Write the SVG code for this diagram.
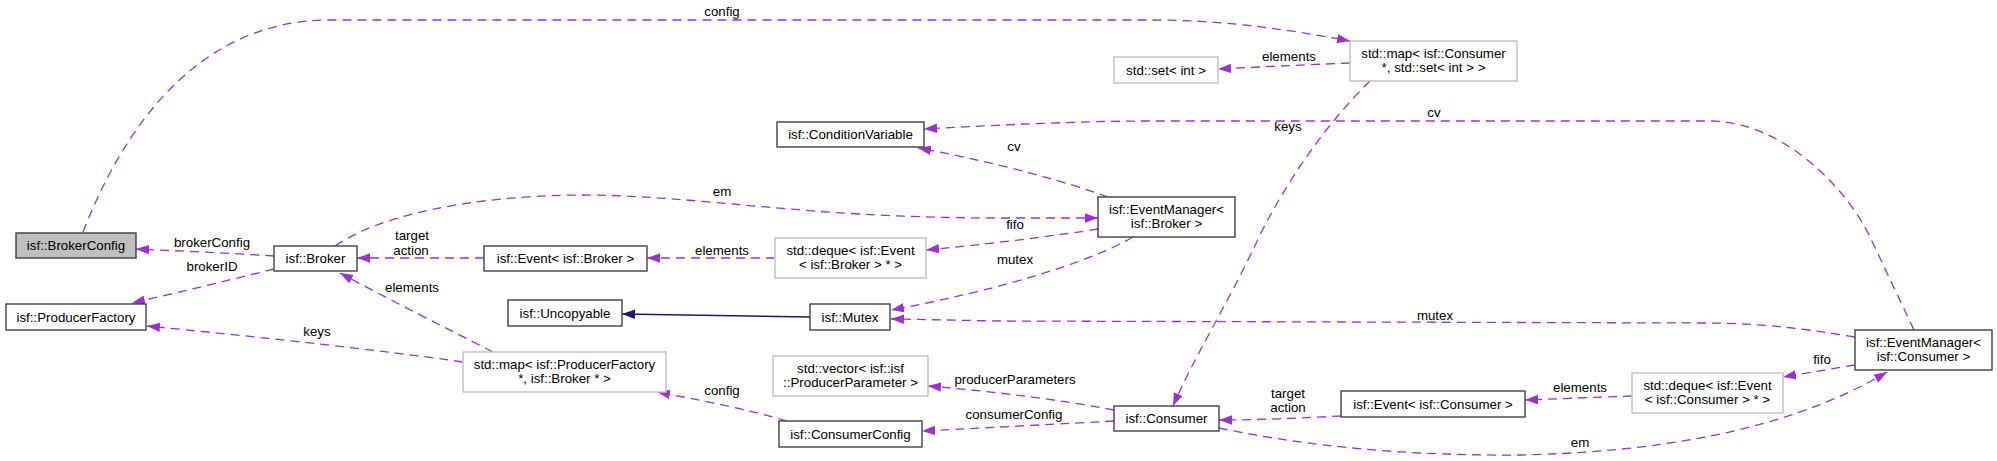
<svg xmlns="http://www.w3.org/2000/svg" width="1997" height="461" viewBox="0 0 1997 461">
<style>
text{font-family:"Liberation Sans",Arial,sans-serif;font-size:13.3px;fill:#000;text-anchor:middle}
.n{fill:#fff;stroke:#404040;stroke-width:1.4}
.g{fill:#fff;stroke:#bfbfbf;stroke-width:1.4}
.h{fill:#bfbfbf;stroke:#404040;stroke-width:1.4}
.e{fill:none;stroke:#9a32cd;stroke-width:1.3;stroke-dasharray:9,6;marker-end:url(#ap)}
.i{fill:none;stroke:#191970;stroke-width:1.3;marker-end:url(#ab)}
</style>
<defs>
<marker id="ap" markerUnits="userSpaceOnUse" markerWidth="14" markerHeight="10" refX="13" refY="4.7" orient="auto"><path d="M0,0 L13,4.7 L0,9.4 z" fill="#9a32cd"/></marker>
<marker id="ab" markerUnits="userSpaceOnUse" markerWidth="14" markerHeight="10" refX="13" refY="4.7" orient="auto"><path d="M0,0 L13,4.7 L0,9.4 z" fill="#191970"/></marker>
</defs>
<rect width="1997" height="461" fill="#fff"/>
<g id="edges">
<path class="e" d="M83,232 C115,150 185,20 330,20 L1150,20 C1220,20 1280,28 1350,41"/>
<text x="722" y="16">config</text>
<path class="e" d="M1914,330 L1870,237 C1845,185 1780,121 1710,121 L1150,121 C1080,121 1000,125 924,129"/>
<text x="1434" y="117">cv</text>
<path class="e" d="M1108,197 C1070,183 1000,163 918,148"/>
<text x="1014" y="151">cv</text>
<path class="e" d="M335,246 C380,215 470,196 580,195 C700,195 800,218 1000,218 L1098,218"/>
<text x="722" y="196">em</text>
<path class="e" d="M274,256 C230,253 180,251 136,249"/>
<text x="212" y="247">brokerConfig</text>
<path class="e" d="M274,269 C230,280 180,292 132,303"/>
<text x="212" y="271">brokerID</text>
<path class="e" d="M484,258 L357,258"/>
<text x="412" y="240">target</text>
<text x="411" y="255">action</text>
<path class="e" d="M493,352 C450,330 390,300 340,273"/>
<text x="412" y="292">elements</text>
<path class="e" d="M463,362 C380,350 250,336 147,326"/>
<text x="317" y="336">keys</text>
<path class="e" d="M775,258 L647,258"/>
<text x="722" y="255">elements</text>
<path class="e" d="M1098,229 C1060,235 1000,243 926,250"/>
<text x="1015" y="229">fifo</text>
<path class="e" d="M1133,237 C1090,262 1000,290 891,310"/>
<text x="1015" y="264">mutex</text>
<path class="e" d="M1855,337 C1800,328 1760,323 1700,323 L1000,321 L891,319"/>
<text x="1435" y="320">mutex</text>
<path class="e" d="M1370,81 C1330,120 1290,175 1260,235 C1230,300 1195,355 1173,406"/>
<text x="1288" y="131">keys</text>
<path class="e" d="M1350,63 C1300,65 1260,67 1218,69"/>
<text x="1289" y="61">elements</text>
<path class="e" d="M1114,410 C1060,400 1000,392 928,386"/>
<text x="1015" y="384">producerParameters</text>
<path class="e" d="M1114,421 C1060,424 1000,427 922,431"/>
<text x="1014" y="419">consumerConfig</text>
<path class="e" d="M787,421 C750,410 700,400 657,392"/>
<text x="722" y="395">config</text>
<path class="e" d="M1341,416 C1300,418 1260,420 1219,420"/>
<text x="1288" y="398">target</text>
<text x="1288" y="412">action</text>
<path class="e" d="M1632,396 L1525,400"/>
<text x="1580" y="392">elements</text>
<path class="e" d="M1855,365 L1783,377"/>
<text x="1822" y="364">fifo</text>
<path class="e" d="M1219,428 C1300,445 1400,456 1520,455 C1660,452 1790,430 1887,372"/>
<text x="1580" y="447">em</text>
<path class="i" d="M810,317 L622,314"/>
</g>
<g id="BrokerConfig"><rect class="h" x="16" y="233" width="120" height="25"/><text x="76" y="250">isf::BrokerConfig</text></g>
<g id="Broker"><rect class="n" x="274" y="246" width="83" height="25"/><text x="315.5" y="263">isf::Broker</text></g>
<g id="ProducerFactory"><rect class="n" x="6" y="304" width="140" height="26"/><text x="76" y="321.5">isf::ProducerFactory</text></g>
<g id="EventBroker"><rect class="n" x="484" y="246" width="163" height="25"/><text x="565.5" y="263">isf::Event&lt; isf::Broker &gt;</text></g>
<g id="MapProducerFactoryBroker"><rect class="g" x="463" y="352" width="203" height="40"/><text x="564.5" y="368.5">std::map&lt; isf::ProducerFactory</text><text x="564.5" y="383"> *, isf::Broker * &gt;</text></g>
<g id="DequeEventBroker"><rect class="g" x="775" y="238" width="151" height="40"/><text x="850.5" y="254.5">std::deque&lt; isf::Event</text><text x="850.5" y="269">&lt; isf::Broker &gt; * &gt;</text></g>
<g id="Uncopyable"><rect class="n" x="508" y="300" width="114" height="26"/><text x="565" y="317.5">isf::Uncopyable</text></g>
<g id="Mutex"><rect class="n" x="810" y="304" width="80" height="26"/><text x="850" y="321.5">isf::Mutex</text></g>
<g id="VectorProducerParameter"><rect class="g" x="773" y="356" width="155" height="40"/><text x="850.5" y="372.5">std::vector&lt; isf::isf</text><text x="850.5" y="387">::ProducerParameter &gt;</text></g>
<g id="ConsumerConfig"><rect class="n" x="779" y="421" width="143" height="26"/><text x="850.5" y="438.5">isf::ConsumerConfig</text></g>
<g id="ConditionVariable"><rect class="n" x="777" y="122" width="147" height="25"/><text x="850.5" y="139">isf::ConditionVariable</text></g>
<g id="EventManagerBroker"><rect class="n" x="1098" y="197" width="137" height="40"/><text x="1166.5" y="213.5">isf::EventManager&lt;</text><text x="1166.5" y="228"> isf::Broker &gt;</text></g>
<g id="SetInt"><rect class="g" x="1114" y="57" width="104" height="26"/><text x="1166" y="74.5">std::set&lt; int &gt;</text></g>
<g id="MapConsumerSet"><rect class="g" x="1350" y="41" width="167" height="40"/><text x="1433.5" y="57.5">std::map&lt; isf::Consumer</text><text x="1433.5" y="72"> *, std::set&lt; int &gt; &gt;</text></g>
<g id="Consumer"><rect class="n" x="1114" y="406" width="105" height="25"/><text x="1166.5" y="423">isf::Consumer</text></g>
<g id="EventConsumer"><rect class="n" x="1341" y="391" width="184" height="26"/><text x="1433" y="408.5">isf::Event&lt; isf::Consumer &gt;</text></g>
<g id="DequeEventConsumer"><rect class="g" x="1632" y="373" width="151" height="40"/><text x="1707.5" y="389.5">std::deque&lt; isf::Event</text><text x="1707.5" y="404">&lt; isf::Consumer &gt; * &gt;</text></g>
<g id="EventManagerConsumer"><rect class="n" x="1855" y="330" width="137" height="40"/><text x="1923.5" y="346.5">isf::EventManager&lt;</text><text x="1923.5" y="361"> isf::Consumer &gt;</text></g>
</svg>
